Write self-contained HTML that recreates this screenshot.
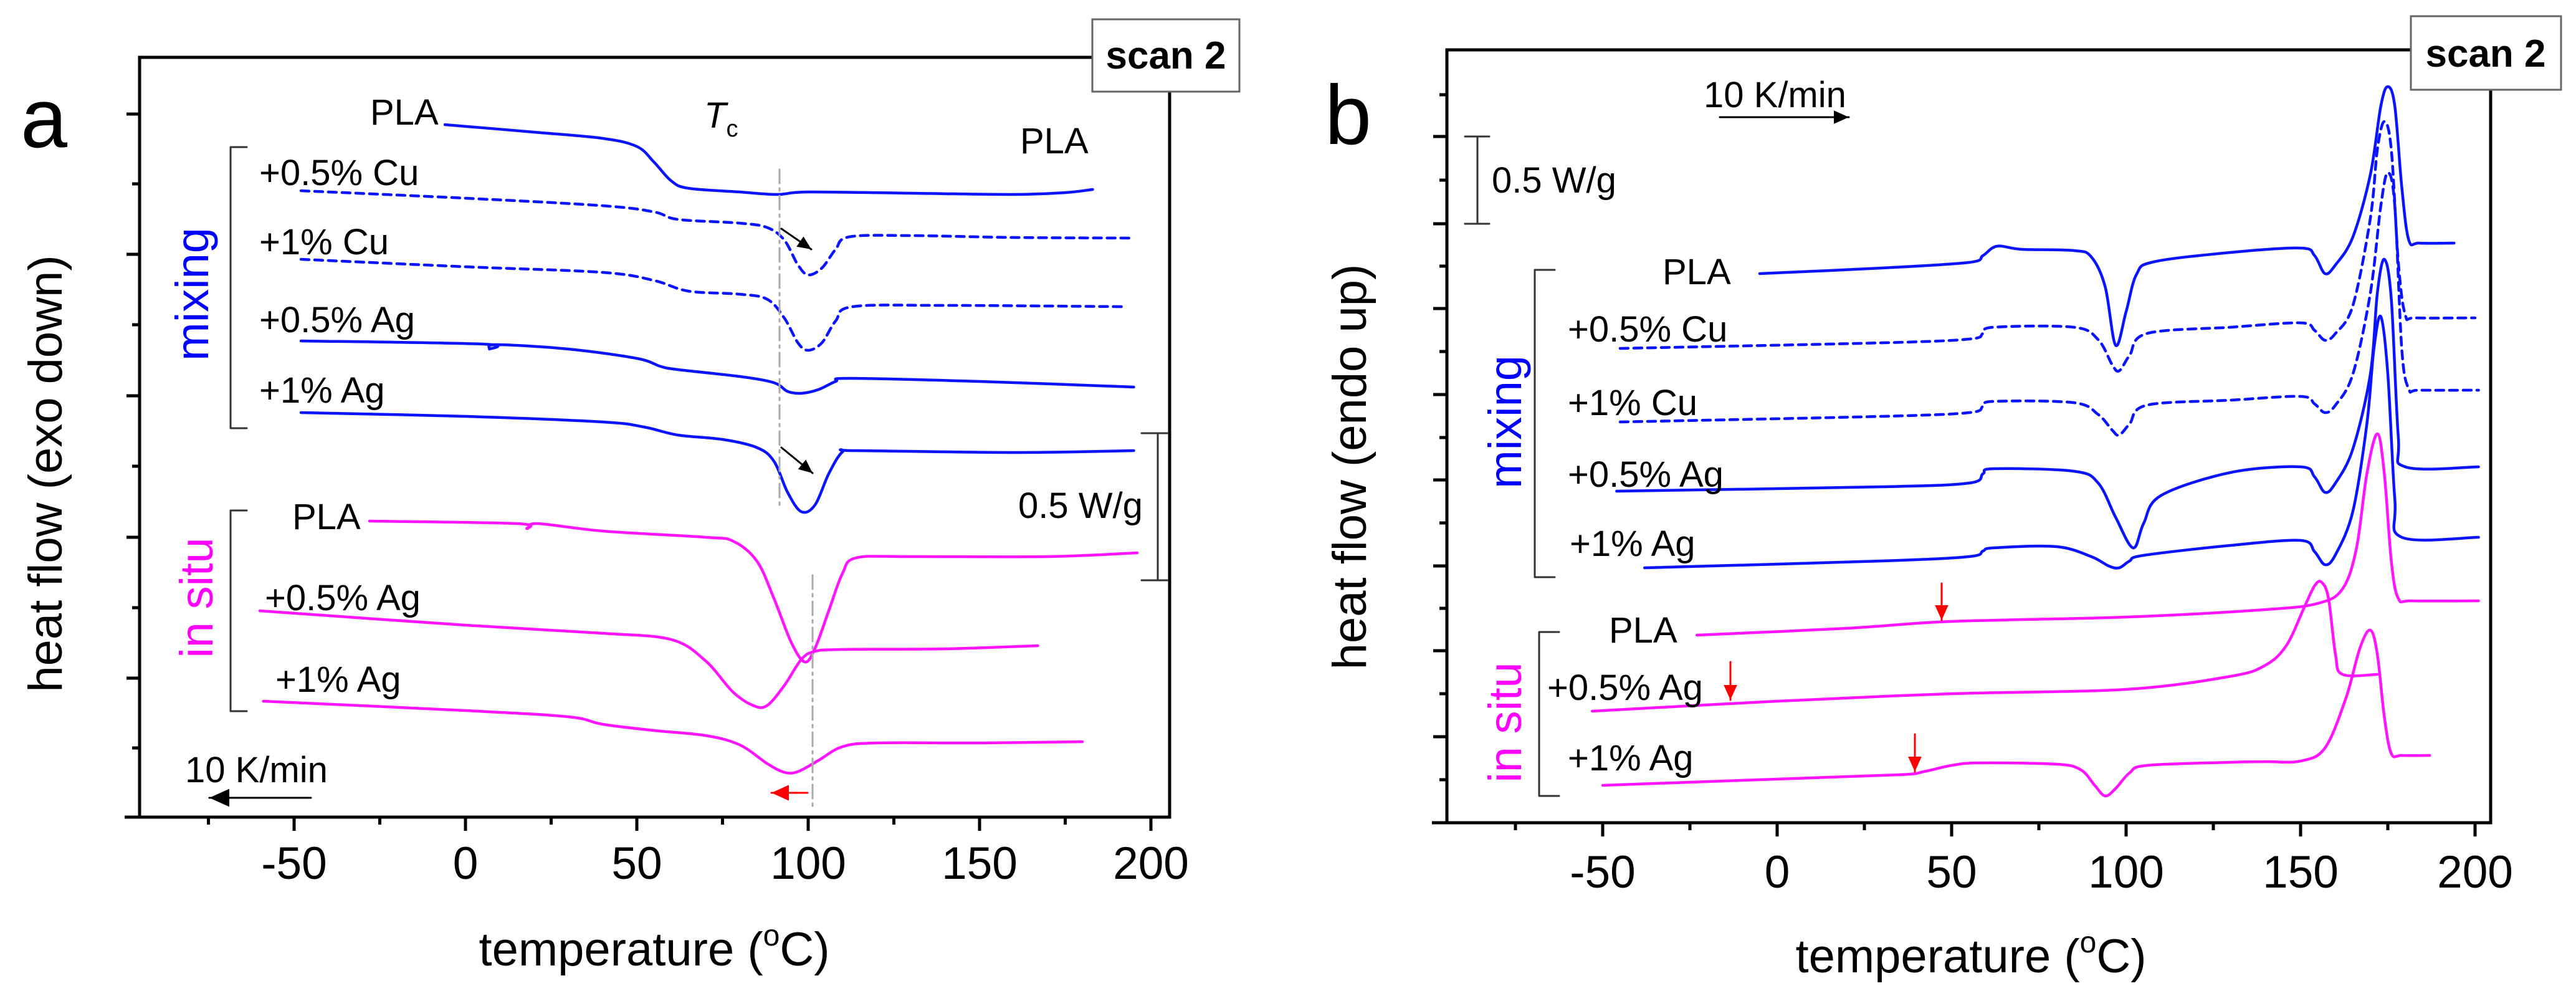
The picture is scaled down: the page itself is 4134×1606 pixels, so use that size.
<!DOCTYPE html>
<html><head><meta charset="utf-8"><style>
html,body{margin:0;padding:0;background:#fff}
svg{display:block}
text{font-family:"Liberation Sans",Arial,sans-serif}
</style></head><body>
<svg id="s" width="4134" height="1606" viewBox="0 0 4134 1606" xmlns="http://www.w3.org/2000/svg">
<rect width="4134" height="1606" fill="#fff"/>
<g id="axes" stroke="#000" stroke-width="5" fill="none"></g>
<g id="curves" fill="none" stroke-width="4.5" stroke-linejoin="round" stroke-linecap="round"></g>

<!-- Panel a texts -->
<text x="33" y="236" font-size="135">a</text>
<rect x="1753" y="31" width="236" height="116" fill="#fff" stroke="#666" stroke-width="3"/>
<text x="1871" y="110" font-size="62" font-weight="bold" text-anchor="middle">scan 2</text>
<text x="73" y="760" font-size="76" text-anchor="middle" transform="rotate(-90 73 760)" dy="26">heat flow (exo down)</text>
<text x="1050" y="1549" font-size="76" text-anchor="middle">temperature (<tspan font-size="48" dy="-32">o</tspan><tspan dy="32">C)</tspan></text>
<g font-size="73" text-anchor="middle">
<text x="472" y="1410">-50</text><text x="747" y="1410">0</text><text x="1022" y="1410">50</text>
<text x="1297" y="1410">100</text><text x="1572" y="1410">150</text><text x="1847" y="1410">200</text>
</g>
<g font-size="58">
<text x="594" y="200">PLA</text>
<text x="1637" y="246">PLA</text>
<text x="1130" y="205" font-style="italic">T<tspan font-size="38" font-style="normal" dy="14">c</tspan></text>
<text x="416" y="297">+0.5% Cu</text>
<text x="416" y="408">+1% Cu</text>
<text x="416" y="533">+0.5% Ag</text>
<text x="416" y="646">+1% Ag</text>
<text x="469" y="849">PLA</text>
<text x="425" y="979">+0.5% Ag</text>
<text x="442" y="1110">+1% Ag</text>
<text x="1634" y="831">0.5 W/g</text>
<text x="297" y="1255">10 K/min</text>
</g>
<text x="310" y="472" font-size="74" fill="#0000ff" text-anchor="middle" transform="rotate(-90 310 472)" dy="24">mixing</text>
<text x="317" y="959" font-size="74" fill="#ff00ff" text-anchor="middle" transform="rotate(-90 317 959)" dy="24">in situ</text>

<!-- Panel b texts -->
<text x="2126" y="231" font-size="135">b</text>
<rect x="3869" y="26" width="241" height="118" fill="#fff" stroke="#666" stroke-width="3"/>
<text x="3989" y="107" font-size="62" font-weight="bold" text-anchor="middle">scan 2</text>
<text x="2166" y="749" font-size="76" text-anchor="middle" transform="rotate(-90 2166 749)" dy="26">heat flow (endo up)</text>
<text x="3163" y="1560" font-size="76" text-anchor="middle">temperature (<tspan font-size="48" dy="-32">o</tspan><tspan dy="32">C)</tspan></text>
<g font-size="73" text-anchor="middle">
<text x="2572" y="1424">-50</text><text x="2852" y="1424">0</text><text x="3132" y="1424">50</text>
<text x="3412" y="1424">100</text><text x="3692" y="1424">150</text><text x="3972" y="1424">200</text>
</g>
<g font-size="58">
<text x="2734" y="172">10 K/min</text>
<text x="2394" y="309">0.5 W/g</text>
<text x="2668" y="456">PLA</text>
<text x="2516" y="548">+0.5% Cu</text>
<text x="2516" y="666">+1% Cu</text>
<text x="2516" y="781">+0.5% Ag</text>
<text x="2519" y="892">+1% Ag</text>
<text x="2582" y="1031">PLA</text>
<text x="2483" y="1123">+0.5% Ag</text>
<text x="2516" y="1236">+1% Ag</text>
</g>
<text x="2417" y="677" font-size="74" fill="#0000ff" text-anchor="middle" transform="rotate(-90 2417 677)" dy="24">mixing</text>
<text x="2417" y="1159" font-size="74" fill="#ff00ff" text-anchor="middle" transform="rotate(-90 2417 1159)" dy="24">in situ</text>
</svg>
<script>
var NS="http://www.w3.org/2000/svg";
function el(parent,tag,attrs){var e=document.createElementNS(NS,tag);for(var k in attrs)e.setAttribute(k,attrs[k]);parent.appendChild(e);return e;}
var ax=document.getElementById('axes'), cv=document.getElementById('curves'), svg=document.getElementById('s');
function line(p,x1,y1,x2,y2,w,c,da){var a={x1:x1,y1:y1,x2:x2,y2:y2,stroke:c||'#000','stroke-width':w||5};if(da)a['stroke-dasharray']=da;el(p,'line',a);}
// Panel a frame
el(ax,'rect',{x:224,y:92,width:1653,height:1219});
line(ax,200,1311,1877,1311,5);
for(var i=0;i<=11;i++){var T=-75+i*25;var x=747+5.5*T;line(ax,x,1311,x,(i%2==1)?1333:1323,5);}
var ya=[183,408,635,862,1088];
ya.forEach(function(y){line(ax,203,y,224,y,5);});
[295,521,748,975,1200].forEach(function(y){line(ax,212,y,224,y,5);});
// Panel b frame
el(ax,'rect',{x:2322,y:80,width:1675,height:1240});
line(ax,2298,1320,3997,1320,5);
for(var i=0;i<=11;i++){var T=-75+i*25;var x=2852+5.6*T;line(ax,x,1320,x,(i%2==1)?1342:1332,5);}
[219,359,495,633,770,908,1044,1182].forEach(function(y){line(ax,2300,y,2322,y,5);});
[152,289,427,564,702,839,976,1113,1251].forEach(function(y){line(ax,2310,y,2322,y,5);});

function cr(pts){var d='M'+pts[0][0]+','+pts[0][1];for(var i=0;i<pts.length-1;i++){var p0=pts[i-1]||pts[i],p1=pts[i],p2=pts[i+1],p3=pts[i+2]||p2;
var c1x=p1[0]+(p2[0]-p0[0])/6,c1y=p1[1]+(p2[1]-p0[1])/6,c2x=p2[0]-(p3[0]-p1[0])/6,c2y=p2[1]-(p3[1]-p1[1])/6;
d+=' C'+c1x.toFixed(1)+','+c1y.toFixed(1)+' '+c2x.toFixed(1)+','+c2y.toFixed(1)+' '+p2[0].toFixed(1)+','+p2[1].toFixed(1);}return d;}
function curve(data,x0,k,col,dash){var pts=data.map(function(p){return [x0+k*p[0],p[1]];});var a={d:cr(pts),stroke:col};if(dash)a['stroke-dasharray']=dash;el(cv,'path',a);}
var B='#0a14ff',M='#ff14ff',D='13,9';
var A=function(d,c,ds){curve(d,747,5.5,c,ds);}, Bp=function(d,c,ds){curve(d,2852,5.6,c,ds);};
A([[-6,200],[20,212],[40,222],[50,235],[55,260],[60,290],[65,302],[80,308],[91,312],[100,308],[130,310],[160,312],[175,309],[183,304]],B);
A([[-48,306],[0,318],[40,330],[55,340],[62,352],[80,358],[88,365],[93,385],[97,425],[100,441],[104,430],[108,400],[112,380],[130,378],[160,381],[195,382]],B,D);
A([[-48,416],[0,428],[40,437],[55,450],[65,467],[80,472],[88,480],[93,510],[97,550],[100,562],[104,550],[108,515],[113,492],[140,490],[192,492]],B,D);
A([[-48,547],[5,552],[7,560],[9,553],[30,560],[50,575],[57,588],[62,593],[80,604],[90,614],[94,628],[98,631],[103,625],[108,612],[112,607],[150,612],[195,621]],B);
A([[-48,662],[0,668],[40,677],[52,685],[62,698],[75,705],[85,718],[90,740],[94,790],[98,821],[102,810],[106,760],[110,725],[114,723],[160,726],[195,723]],B);
A([[-28,836],[15,840],[18,848],[21,840],[40,852],[70,862],[78,868],[85,900],[90,960],[95,1030],[99,1062],[102,1040],[106,980],[110,920],[114,895],[130,893],[170,893],[196,887]],M);
A([[-60,980],[0,1003],[40,1016],[60,1026],[70,1060],[78,1110],[84,1132],[88,1132],[93,1100],[98,1058],[102,1045],[110,1042],[140,1041],[167,1036]],M);
A([[-59,1125],[0,1140],[30,1150],[40,1162],[55,1172],[70,1180],[80,1195],[88,1225],[93,1239],[97,1238],[103,1220],[110,1198],[120,1192],[150,1192],[180,1190]],M);

Bp([[-5,439],[30,430],[55,421],[59,410],[63,395],[70,400],[85,402],[90,412],[94,460],[97,554],[100,500],[103,440],[108,420],[130,405],[150,398],[154,410],[157,439],[160,425],[165,380],[170,280],[173,170],[175,139],[177,170],[179,300],[181,385],[184,390],[194,390]],B);
Bp([[-45,559],[30,550],[55,544],[59,535],[62,525],[85,525],[92,545],[96,585],[98,595],[101,570],[106,535],[130,525],[150,518],[154,530],[157,546],[160,535],[165,490],[170,350],[172,240],[174,195],[176,240],[178,420],[180,505],[183,510],[200,510]],B,D);
Bp([[-45,677],[30,668],[55,662],[59,652],[62,644],[85,646],[92,665],[96,690],[98,698],[101,680],[106,650],[130,642],[150,636],[154,648],[157,662],[160,650],[165,600],[170,470],[173,330],[175,277],[177,330],[179,560],[181,624],[184,626],[201,626]],B,D);
Bp([[-46,788],[30,781],[55,775],[59,760],[62,752],[85,756],[92,775],[97,830],[102,879],[105,840],[110,795],[130,758],[150,749],[154,765],[157,790],[160,775],[165,720],[170,600],[172,470],[174,416],[176,480],[178,700],[180,749],[201,749]],B);
Bp([[-38,911],[30,900],[55,893],[59,884],[62,879],[80,877],[90,893],[95,908],[98,911],[101,900],[105,891],[130,875],[150,867],[154,885],[157,906],[160,890],[165,820],[169,680],[171,560],[173,508],[175,600],[177,800],[179,862],[201,862]],B);
Bp([[-23,1019],[20,1008],[50,997],[100,990],[140,978],[155,968],[162,945],[166,880],[169,760],[172,696],[174,760],[176,900],[178,960],[182,964],[201,964]],M);
Bp([[-53,1141],[0,1125],[50,1113],[100,1106],[130,1085],[140,1067],[146,1035],[151,975],[154,940],[156,934],[158,960],[160,1050],[162,1082],[172,1082]],M);
Bp([[-50,1260],[0,1250],[35,1243],[42,1238],[50,1228],[58,1224],[80,1226],[87,1235],[91,1260],[94,1277],[97,1265],[101,1240],[106,1228],[130,1223],[140,1222],[150,1221],[157,1200],[163,1120],[167,1040],[170,1011],[172,1050],[174,1150],[176,1209],[179,1212],[187,1212]],M);

// annotations panel a
line(cv,1251,272,1251,811,3,'#aaa','22,8,4,8');
line(cv,1304,923,1304,1293,3,'#aaa','22,8,4,8');
function arrow(x1,y1,x2,y2,col,w,hl){line(cv,x1,y1,x2,y2,w,col);var a=Math.atan2(y2-y1,x2-x1),h=hl||20,s=h*0.45;
var p=[[x2,y2],[x2-h*Math.cos(a)+s*Math.sin(a),y2-h*Math.sin(a)-s*Math.cos(a)],[x2-h*Math.cos(a)-s*Math.sin(a),y2-h*Math.sin(a)+s*Math.cos(a)]];
el(cv,'polygon',{points:p.map(function(q){return q.join(',')}).join(' '),fill:col,stroke:'none'});}
arrow(1254,367,1302,400,'#000',3,22);
arrow(1254,718,1304,759,'#000',3,22);
arrow(1296,1272,1238,1272,'#f00',3,28);
arrow(499,1280,336,1280,'#000',3,32);
// brackets
function br(x,y1,y2,w){el(cv,'polyline',{points:(x+w)+','+y1+' '+x+','+y1+' '+x+','+y2+' '+(x+w)+','+y2,stroke:'#333','stroke-width':3});}
br(370,236,687,26); br(370,819,1141,26);
br(2463,433,926,32); br(2470,1014,1277,32);
// scale bars
line(cv,1858,695,1858,931,3,'#333');line(cv,1832,695,1874,695,3,'#333');line(cv,1832,931,1874,931,3,'#333');
line(cv,2371,219,2371,359,3,'#333');line(cv,2351,219,2390,219,3,'#333');line(cv,2351,359,2390,359,3,'#333');
arrow(2760,188,2967,188,'#000',3,24);
arrow(3116,936,3116,995,'#f00',3,24);
arrow(2777,1062,2777,1123,'#f00',3,24);
arrow(3073,1178,3073,1238,'#f00',3,24);
</script>
</body></html>
